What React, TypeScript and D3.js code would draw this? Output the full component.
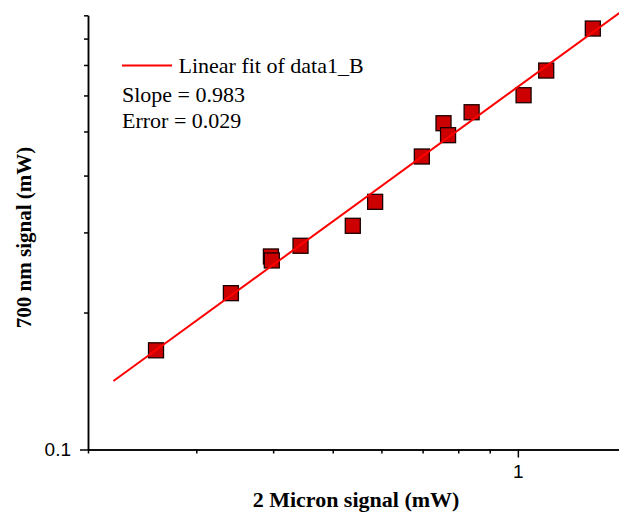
import * as d3 from "d3";
import { useEffect, useRef } from "react";

// measured points, 2 micron signal vs 700 nm signal (mW)
const xValues = [0.258, 0.3415, 0.3967, 0.398, 0.4432, 0.539, 0.586, 0.698, 0.757, 0.77, 0.841, 1.0216, 1.112, 1.324];
const yValues = [0.1652, 0.2206, 0.2656, 0.2603, 0.2804, 0.3102, 0.3502, 0.4405, 0.5213, 0.4907, 0.5511, 0.6007, 0.6806, 0.8418];

// linear fit in log-log space
const fitSlope = 0.983;
const fitIntercept = 0.6266;
const fitRange = [0.22, 1.5];

const xMinorTicks = [0.2, 0.3, 0.4, 0.5, 0.6, 0.7, 0.8, 0.9];
const xMajorTicks = [1];
const yMinorTicks = [0.2, 0.3, 0.4, 0.5, 0.6, 0.7, 0.8, 0.9];
const yMajorTicks = [0.1];

const legendLines = ["Slope = 0.983", "Error = 0.029"];

const W = 619;
const H = 513;
const serif = "'Liberation Serif', 'Times New Roman', serif";
const sans = "'Liberation Sans', Arial, sans-serif";

const drawChart = (svgEl: SVGSVGElement) => {
  const svg = d3.select(svgEl);
  svg.selectAll("*").remove();

  const x = d3
    .scaleLog()
    .domain([0.2, 1.5])
    .range([88, 88 + 615 * Math.log10(1.5 / 0.2)]);
  const y = d3
    .scaleLog()
    .domain([0.1, 0.9])
    .range([449.5, 449.5 - 455 * Math.log10(9)]);

  const axisStyle = (g: any) => {
    g.select(".domain").attr("stroke", "#000").attr("stroke-width", 1.5);
    g.selectAll(".tick line").attr("stroke", "#000").attr("stroke-width", 1.5);
    g.selectAll("text")
      .attr("fill", "#000")
      .attr("font-family", sans)
      .attr("font-size", 19);
  };

  // x axis
  svg
    .append("g")
    .attr("transform", "translate(0,449.5)")
    .call(d3.axisBottom(x).tickValues(xMinorTicks).tickSize(4).tickSizeOuter(0).tickFormat(() => ""))
    .call(axisStyle);
  svg
    .append("g")
    .attr("transform", "translate(0,449.5)")
    .call(d3.axisBottom(x).tickValues(xMajorTicks).tickSize(8).tickSizeOuter(0).tickPadding(7).tickFormat(d3.format("~g")))
    .call(axisStyle);

  // y axis
  svg
    .append("g")
    .attr("transform", "translate(88,0)")
    .call(d3.axisLeft(y).tickValues(yMinorTicks).tickSize(4).tickSizeOuter(0).tickFormat(() => ""))
    .call(axisStyle);
  svg
    .append("g")
    .attr("transform", "translate(88,0)")
    .call(d3.axisLeft(y).tickValues(yMajorTicks).tickSize(8).tickSizeOuter(0).tickPadding(9).tickFormat(d3.format("~g")))
    .call(axisStyle);

  // axis titles
  svg
    .append("text")
    .attr("x", 356)
    .attr("y", 507)
    .attr("text-anchor", "middle")
    .attr("font-family", serif)
    .attr("font-weight", "bold")
    .attr("font-size", 22)
    .text("2 Micron signal (mW)");

  svg
    .append("text")
    .attr("transform", "translate(31,237.5) rotate(-90)")
    .attr("text-anchor", "middle")
    .attr("font-family", serif)
    .attr("font-weight", "bold")
    .attr("font-size", 21)
    .text("700 nm signal (mW)");

  // data squares
  const size = 15;
  svg
    .append("g")
    .selectAll("rect")
    .data(xValues.map((v, i) => [v, yValues[i]]))
    .join("rect")
    .attr("x", (d) => x(d[0]) - size / 2)
    .attr("y", (d) => y(d[1]) - size / 2)
    .attr("width", size)
    .attr("height", size)
    .attr("fill", "#cc0000")
    .attr("stroke", "#1a0000")
    .attr("stroke-width", 1.3);

  // fit line on top
  const fitPts = fitRange.map((v) => [v, fitIntercept * Math.pow(v, fitSlope)]);
  svg
    .append("path")
    .attr("d", d3.line().x((d) => x(d[0])).y((d) => y(d[1]))(fitPts as any))
    .attr("fill", "none")
    .attr("stroke", "#ff0000")
    .attr("stroke-width", 2);

  // legend
  const leg = svg.append("g").attr("font-family", serif).attr("font-size", 22).attr("fill", "#000");
  leg
    .append("line")
    .attr("x1", 122)
    .attr("x2", 172)
    .attr("y1", 65.5)
    .attr("y2", 65.5)
    .attr("stroke", "#ff0000")
    .attr("stroke-width", 2);
  leg.append("text").attr("x", 178.5).attr("y", 73.3).text("Linear fit of data1_B");
  leg
    .selectAll("text.stat")
    .data(legendLines)
    .join("text")
    .attr("class", "stat")
    .attr("x", 122)
    .attr("y", (_, i) => 101.7 + i * 26.6)
    .text((d) => d);
};

export default function App() {
  const ref = useRef<SVGSVGElement>(null);

  useEffect(() => {
    if (ref.current) drawChart(ref.current);
  }, []);

  return (
    <div style={{ position: "fixed", left: 0, top: 0, width: W, height: H, background: "#fff" }}>
      <svg ref={ref} width={W} height={H} style={{ display: "block" }} />
    </div>
  );
}
